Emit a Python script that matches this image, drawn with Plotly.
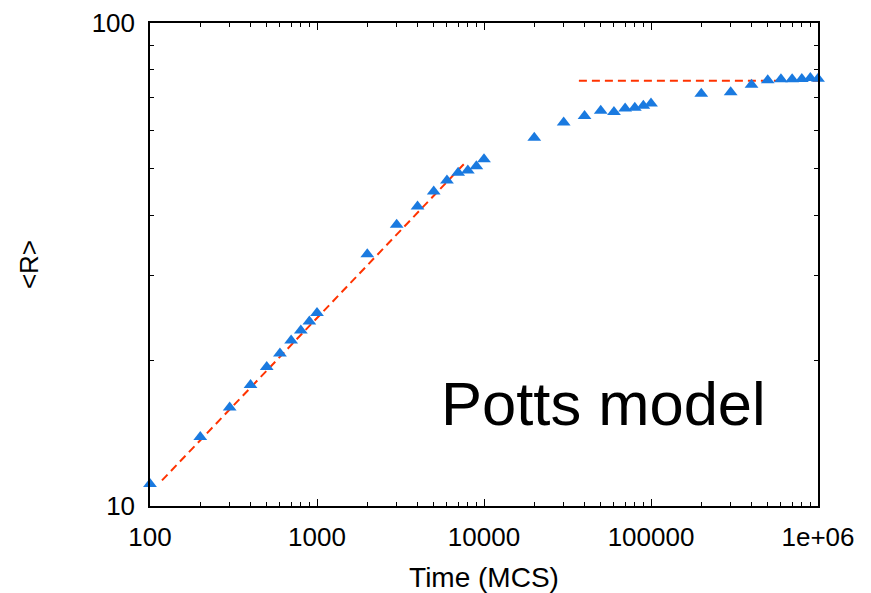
import plotly.graph_objects as go

# ---- data ----
time_mcs = [100, 200, 300, 400, 500, 600, 700, 800, 900,
            1000, 2000, 3000, 4000, 5000, 6000, 7000, 8000, 9000,
            10000, 20000, 30000, 40000, 50000, 60000, 70000, 80000, 90000,
            100000, 200000, 300000, 400000, 500000, 600000, 700000, 800000, 900000,
            1000000]
mean_R = [11.1, 13.9, 16.0, 17.8, 19.4, 20.7, 22.0, 23.1, 24.1,
          25.1, 33.2, 38.2, 41.7, 44.8, 47.2, 49.0, 49.5, 50.5,
          52.2, 57.9, 62.2, 64.2, 65.8, 65.4, 66.5, 66.8, 67.4,
          68.1, 71.4, 71.9, 74.5, 76.1, 76.5, 76.5, 76.6, 76.9,
          76.7]

fit_power_t = [118, 7900]
fit_power_R = [11.3, 51.8]
plateau_t = [37000, 1000000]
plateau_R = [75.9, 75.9]

x_major = [100, 1000, 10000, 100000, 1000000]
x_major_text = ["100", "1000", "10000", "100000", "1e+06"]
x_minor = [m * d for d in [100, 1000, 10000, 100000] for m in range(2, 10)]
y_major = [10, 100]
y_major_text = ["10", "100"]
y_minor = [20, 30, 40, 50, 60, 70, 80, 90]

FONT = "Liberation Sans, Arial, Helvetica, sans-serif"

fig = go.Figure()
fig.add_trace(go.Scatter(
    x=fit_power_t, y=fit_power_R, mode="lines",
    line=dict(color="#FF3300", width=2, dash="8px,5px"),
    showlegend=False, hoverinfo="skip", cliponaxis=False))
fig.add_trace(go.Scatter(
    x=plateau_t, y=plateau_R, mode="lines",
    line=dict(color="#FF3300", width=2, dash="8px,5px"),
    showlegend=False, hoverinfo="skip", cliponaxis=False))
fig.add_trace(go.Scatter(
    x=time_mcs, y=mean_R, mode="markers",
    marker=dict(symbol="triangle-up", size=12, color="#1A7AE0", line=dict(width=0)),
    showlegend=False, cliponaxis=False))

axis_common = dict(
    type="log", showgrid=False, zeroline=False,
    showline=True, linecolor="#000000", linewidth=1.5, mirror="ticks",
    ticks="inside", ticklen=7, tickwidth=1, tickcolor="#000000",
    tickfont=dict(family=FONT, size=26, color="#000000"),
)

fig.update_layout(
    width=871, height=593,
    margin=dict(l=142, r=61, t=15, b=95, autoexpand=False),
    paper_bgcolor="white", plot_bgcolor="white",
    font=dict(family=FONT, color="#000000"),
    xaxis=dict(
        **axis_common, range=[2, 6],
        tickmode="array", tickvals=x_major, ticktext=x_major_text,
        ticklabelstandoff=7,
        minor=dict(tickmode="array", tickvals=x_minor, ticks="inside",
                   ticklen=4, tickcolor="#000000", showgrid=False),
        title=dict(text="Time (MCS)", font=dict(family=FONT, size=28, color="#000000"),
                   standoff=16),
    ),
    yaxis=dict(
        **axis_common, range=[1, 2],
        tickmode="array", tickvals=y_major, ticktext=y_major_text,
        ticklabelstandoff=8,
        minor=dict(tickmode="array", tickvals=y_minor, ticks="inside",
                   ticklen=4, tickcolor="#000000", showgrid=False),
        title=dict(text="&lt;R&gt;", font=dict(family=FONT, size=26, color="#000000"),
                   standoff=46),
    ),
    annotations=[dict(
        text="Potts model", xref="paper", yref="paper",
        x=0.432, y=0.212, xanchor="left", yanchor="middle",
        showarrow=False, font=dict(family=FONT, size=61.5, color="#000000"))],
)

fig.write_html("out.html")
